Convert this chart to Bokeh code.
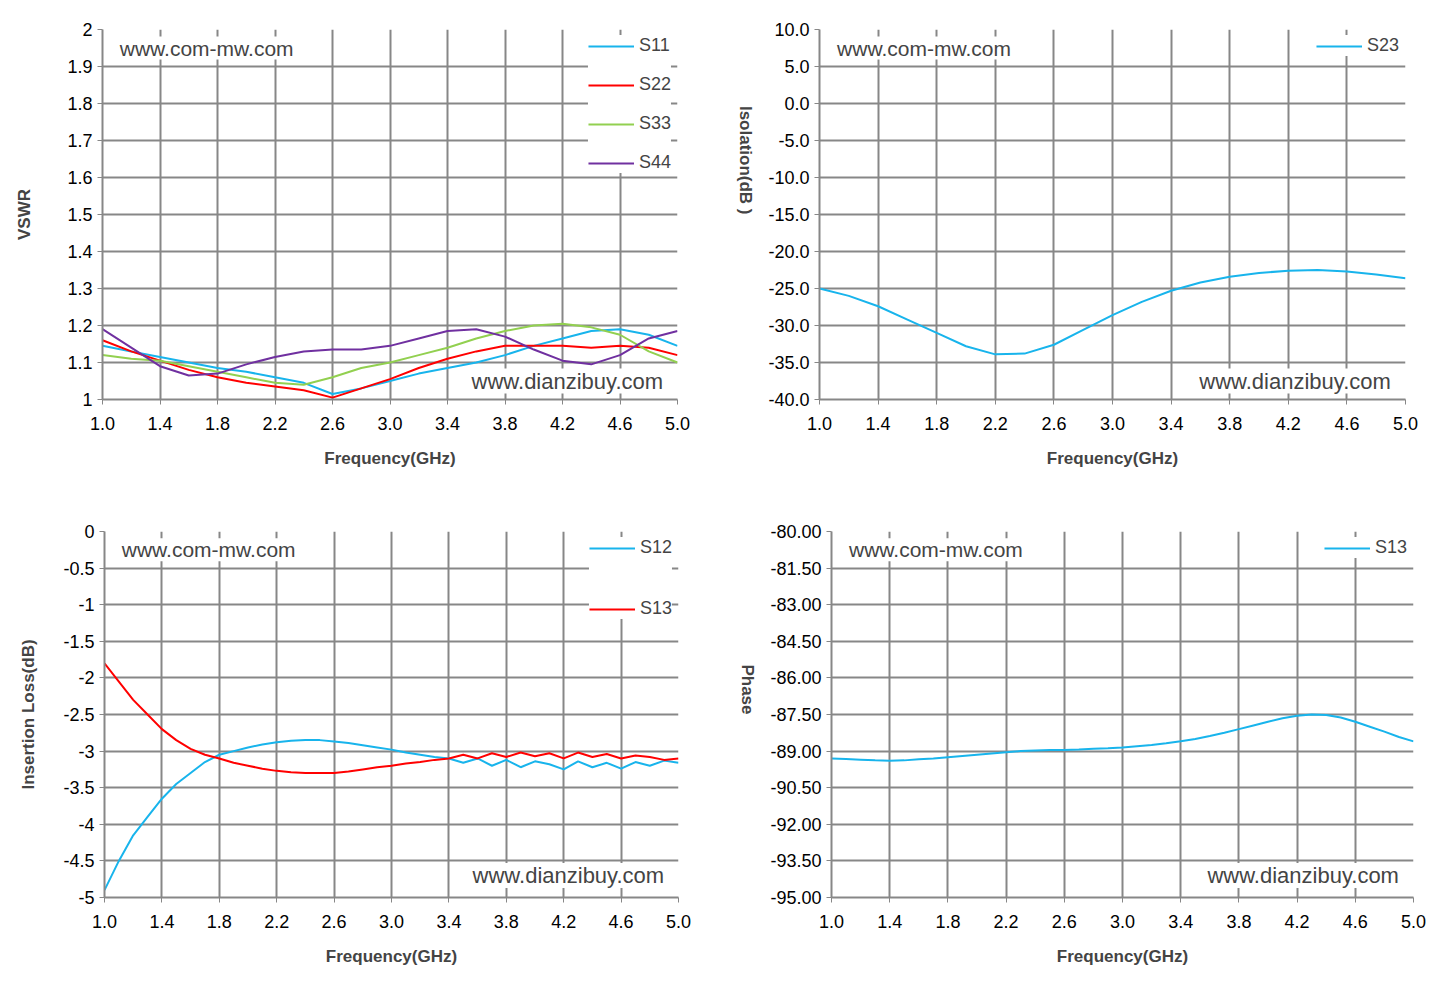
import numpy as np
from bokeh.plotting import figure
from bokeh.layouts import column, row
from bokeh.models import FixedTicker, Label, Legend, LegendItem
from bokeh.embed import file_html
from bokeh.resources import INLINE

f02 = [1.0,1.2,1.4,1.6,1.8,2.0,2.2,2.4,2.6,2.8,3.0,3.2,3.4,3.6,3.8,4.0,4.2,4.4,4.6,4.8,5.0]
s11 = [1.145,1.13,1.115,1.10,1.085,1.075,1.06,1.045,1.015,1.03,1.05,1.07,1.085,1.10,1.12,1.145,1.165,1.185,1.19,1.175,1.145]
s22 = [1.16,1.13,1.105,1.08,1.06,1.045,1.035,1.025,1.005,1.03,1.055,1.085,1.11,1.13,1.145,1.145,1.145,1.14,1.145,1.14,1.12]
s33 = [1.12,1.11,1.105,1.09,1.075,1.06,1.045,1.04,1.06,1.085,1.10,1.12,1.14,1.165,1.185,1.20,1.205,1.195,1.175,1.13,1.10]
s44 = [1.19,1.14,1.09,1.065,1.07,1.095,1.115,1.13,1.135,1.135,1.145,1.165,1.185,1.19,1.17,1.135,1.105,1.095,1.12,1.165,1.185]
s23 = [-25.0,-26.0,-27.4,-29.2,-31.0,-32.8,-33.9,-33.8,-32.6,-30.6,-28.6,-26.8,-25.3,-24.2,-23.4,-22.9,-22.6,-22.5,-22.7,-23.1,-23.6]

f01 = [1.0,1.1,1.2,1.3,1.4,1.5,1.6,1.7,1.8,1.9,2.0,2.1,2.2,2.3,2.4,2.5,2.6,2.7,2.8,2.9,3.0,
       3.1,3.2,3.3,3.4,3.5,3.6,3.7,3.8,3.9,4.0,4.1,4.2,4.3,4.4,4.5,4.6,4.7,4.8,4.9,5.0]
il12 = [-4.9,-4.5,-4.15,-3.9,-3.65,-3.45,-3.3,-3.15,-3.05,-3.0,-2.95,-2.91,-2.88,-2.86,-2.85,-2.85,-2.87,-2.89,-2.92,-2.95,-2.98,
        -3.02,-3.05,-3.08,-3.1,-3.16,-3.1,-3.2,-3.12,-3.22,-3.14,-3.18,-3.25,-3.14,-3.22,-3.16,-3.24,-3.15,-3.2,-3.13,-3.16]
il13 = [-1.8,-2.05,-2.3,-2.5,-2.7,-2.85,-2.97,-3.05,-3.1,-3.16,-3.2,-3.24,-3.27,-3.29,-3.3,-3.3,-3.3,-3.28,-3.25,-3.22,-3.2,
        -3.17,-3.15,-3.12,-3.1,-3.05,-3.1,-3.03,-3.08,-3.02,-3.07,-3.03,-3.1,-3.02,-3.08,-3.04,-3.1,-3.06,-3.08,-3.12,-3.1]
ph13 = [-89.3,-89.32,-89.35,-89.38,-89.4,-89.38,-89.33,-89.3,-89.25,-89.2,-89.15,-89.1,-89.05,-89.0,-88.98,-88.96,-88.95,-88.93,-88.9,-88.88,-88.85,
        -88.8,-88.75,-88.68,-88.6,-88.5,-88.38,-88.25,-88.1,-87.95,-87.8,-87.65,-87.55,-87.5,-87.52,-87.62,-87.8,-88.0,-88.2,-88.42,-88.6]

xticks = [1.0,1.4,1.8,2.2,2.6,3.0,3.4,3.8,4.2,4.6,5.0]
GRID = "#878787"
BLUE = "#18b4ec"; RED = "#ff0000"; GREEN = "#92d050"; PURPLE = "#7030a0"
FONT = "Liberation Sans"

def make(w, h, l, r, t, b, yr, yt, yfmt, ylabel, flip, ystand):
    p = figure(width=w, height=h, x_range=(1.0, 5.0), y_range=yr, output_backend="svg",
               toolbar_location=None, min_border_left=l, min_border_right=r,
               min_border_top=t, min_border_bottom=b)
    p.outline_line_color = None
    p.xaxis.ticker = FixedTicker(ticks=xticks)
    p.xaxis.major_label_overrides = {v: f"{v:.1f}" for v in xticks}
    p.yaxis.ticker = FixedTicker(ticks=yt)
    p.yaxis.major_label_overrides = {v: yfmt(v) for v in yt}
    for ax in (p.xaxis[0], p.yaxis[0]):
        ax.axis_line_color = GRID; ax.axis_line_width = 2
        ax.major_tick_line_color = GRID; ax.major_tick_out = 5; ax.major_tick_in = 0
        ax.minor_tick_line_color = None
        ax.major_label_text_font = FONT; ax.major_label_text_font_size = "18px"
        ax.major_label_text_color = "black"
        ax.axis_label_text_font = FONT; ax.axis_label_text_font_size = "17px"
        ax.axis_label_text_font_style = "bold"
    p.xaxis.major_label_standoff = 12
    p.xaxis.axis_label = "Frequency(GHz)"
    p.xaxis.axis_label_standoff = 16
    p.yaxis.axis_label = ylabel
    p.yaxis.axis_label_standoff = ystand
    if flip and "axis_label_orientation" in p.yaxis[0].properties():
        p.yaxis[0].axis_label_orientation = -np.pi/2
    p.grid.grid_line_color = GRID; p.grid.grid_line_width = 2
    return p

def marks(p, ybot, ytop):
    p.add_layout(Label(x=1.12, y=ytop, text="www.com-mw.com", text_font=FONT,
                       text_font_size="21px", text_baseline="middle", background_fill_color="white"))
    p.add_layout(Label(x=4.9, y=ybot, text="www.dianzibuy.com", text_font=FONT, text_align="right",
                       text_font_size="22px", text_baseline="middle", background_fill_color="white"))

def legend(p, items, spacing):
    lg = Legend(items=[LegendItem(label=n, renderers=[r]) for n, r in items], location="top_right",
                border_line_color=None, background_fill_alpha=1.0, label_text_font=FONT,
                label_text_font_size="18px", spacing=spacing, glyph_width=46, margin=6, padding=6)
    p.add_layout(lg)

p1 = make(714, 490, 102, 37, 29, 91, (1, 2), [1+i/10 for i in range(11)],
          lambda v: "1" if abs(v-1) < 1e-9 else ("2" if abs(v-2) < 1e-9 else f"{v:.1f}"), "VSWR", False, 30)
r = [p1.line(f02, s, line_color=c, line_width=2) for s, c in ((s11, BLUE), (s22, RED), (s33, GREEN), (s44, PURPLE))]
legend(p1, list(zip(["S11", "S22", "S33", "S44"], r)), 18)
marks(p1, 1.05, 1.95)

p2 = make(714, 490, 105, 23, 27, 91, (-40, 10), [-40+5*i for i in range(11)], lambda v: f"{v:.1f}", "Isolation(dB )", True, 20)
r2 = p2.line(f02, s23, line_color=BLUE, line_width=2)
legend(p2, [("S23", r2)], 0)
marks(p2, -37.5, 7.5)

p3 = make(714, 490, 104, 36, 41, 83, (-5, 0), [-5+0.5*i for i in range(11)],
          lambda v: f"{v:g}", "Insertion Loss(dB)", False, 22)
a = p3.line(f01, il12, line_color=BLUE, line_width=2)
b = p3.line(f01, il13, line_color=RED, line_width=2)
legend(p3, [("S12", a), ("S13", b)], 40)
marks(p3, -4.7, -0.25)

p4 = make(714, 490, 117, 15, 41, 83, (-95, -80), [-95+1.5*i for i in range(11)],
          lambda v: f"{v:.2f}", "Phase", True, 20)
r4 = p4.line(f01, ph13, line_color=BLUE, line_width=2)
legend(p4, [("S13", r4)], 0)
marks(p4, -94.1, -80.75)

lay = column(row(p1, p2), row(p3, p4))
open("out.html", "w").write(file_html(lay, INLINE))
